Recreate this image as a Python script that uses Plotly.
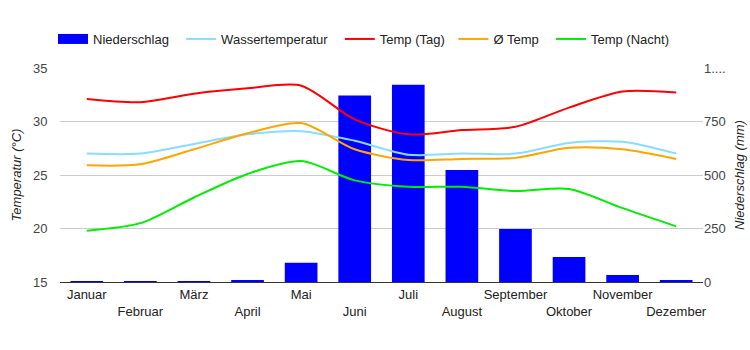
import plotly.graph_objects as go

months = ["Januar", "Februar", "März", "April", "Mai", "Juni", "Juli",
          "August", "September", "Oktober", "November", "Dezember"]
niederschlag = [2, 2, 2, 9, 90, 871, 922, 523, 248, 117, 33, 6]
wassertemp = [27.0, 27.0, 27.9, 28.8, 29.1, 28.2, 26.9, 27.0, 27.0, 28.0, 28.1, 27.0]
temp_tag = [32.1, 31.8, 32.6, 33.1, 33.35, 30.2, 28.8, 29.2, 29.5, 31.3, 32.8, 32.7]
temp_avg = [25.9, 26.0, 27.4, 28.9, 29.85, 27.4, 26.4, 26.5, 26.6, 27.55, 27.4, 26.5]
temp_nacht = [19.8, 20.5, 22.9, 25.1, 26.3, 24.5, 23.9, 23.9, 23.5, 23.7, 21.9, 20.2]

temp_ticks = [15, 20, 25, 30, 35]
rain_ticks = [0, 250, 500, 750, 1000]
rain_ticktext = ["0", "250", "500", "750", "1...."]

ticktext = [m if i % 2 == 0 else "<br>" + m for i, m in enumerate(months)]

font = "Liberation Sans, Arial, sans-serif"
NB = "\u00a0"

fig = go.Figure()
fig.add_trace(go.Bar(x=months, y=niederschlag, name="Niederschlag", showlegend=False,
                     legendgroup="rain",
                     marker=dict(color="#0000ff", line=dict(width=0)), yaxis="y"))
# legend entry for the bars (wide rectangle swatch)
fig.add_trace(go.Scatter(x=[None], y=[None], name="Niederschlag" + NB * 2, mode="lines",
                         legendgroup="rain", yaxis="y",
                         line=dict(color="#0000ff", width=13)))

def line(y, name, color):
    fig.add_trace(go.Scatter(x=months, y=y, name=name, mode="lines", yaxis="y2",
                             line=dict(color=color, width=2, shape="spline", smoothing=0.8)))

line(wassertemp, "Wassertemperatur" + NB * 2, "#87ddff")
line(temp_tag, "Temp (Tag)" + NB, "#ff0000")
line(temp_avg, "Ø Temp" + NB * 2, "#ffa500")
line(temp_nacht, "Temp (Nacht)", "#00ee00")

fig.update_layout(
    width=750, height=350,
    margin=dict(l=60, r=47, t=68, b=68, autoexpand=False),
    paper_bgcolor="white", plot_bgcolor="white",
    font=dict(family=font, size=13, color="#222"),
    bargap=0.39,
    showlegend=True,
    legend=dict(orientation="h", xref="container", yref="container",
                x=53 / 750, xanchor="left", y=1 - 39 / 350, yanchor="middle",
                font=dict(size=13, color="#222"), traceorder="normal",
                itemwidth=30),
    xaxis=dict(tickmode="array", tickvals=months, ticktext=ticktext, tickangle=0,
               showgrid=False, showline=True, linecolor="#333", linewidth=1,
               layer="below traces",
               tickfont=dict(size=13, color="#222"), ticks="", fixedrange=True),
    yaxis=dict(side="right", range=[0, 1000], tickvals=rain_ticks, ticktext=rain_ticktext,
               showgrid=True, gridcolor="#cccccc", zeroline=False,
               tickfont=dict(size=13, color="#444"),
               title=dict(text="<i>Niederschlag (mm)</i>", font=dict(size=13, color="#222"), standoff=10)),
    yaxis2=dict(side="left", overlaying="y", range=[15, 35], tickvals=temp_ticks,
                showgrid=False, zeroline=False,
                ticks="outside", ticklen=9, tickcolor="rgba(0,0,0,0)",
                tickfont=dict(size=13, color="#444"),
                title=dict(text="<i>Temperatur (°C)</i>", font=dict(size=13, color="#222"), standoff=8)),
)

fig.write_html("out.html")
